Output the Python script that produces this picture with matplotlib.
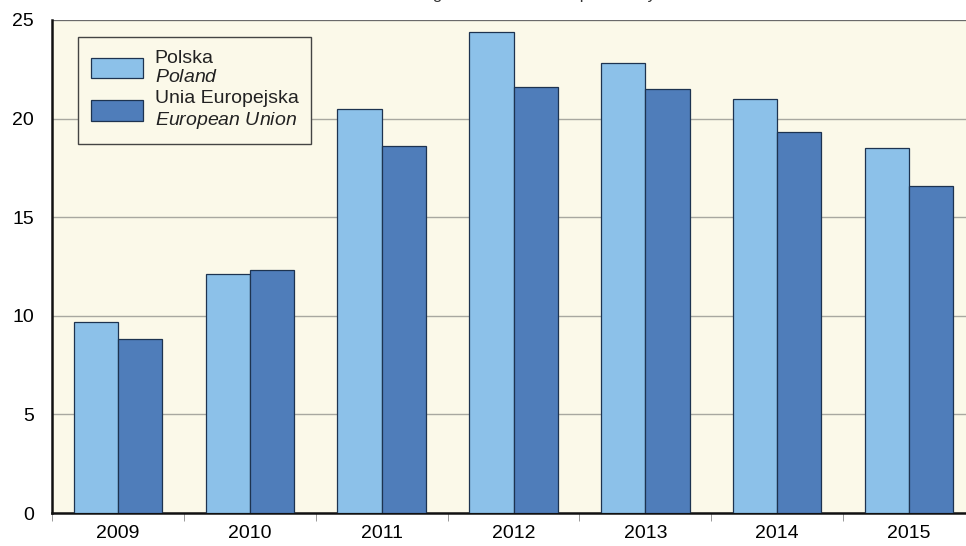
import numpy as np
import matplotlib.pyplot as plt
from matplotlib.patches import Patch

plt.rcParams['font.family'] = ['Liberation Sans', 'DejaVu Sans']
plt.rcParams['mathtext.fontset'] = 'custom'
plt.rcParams['mathtext.rm'] = 'Liberation Sans'
plt.rcParams['mathtext.it'] = 'Liberation Sans:italic'

years = ['2009', '2010', '2011', '2012', '2013', '2014', '2015']
poland = [9.7, 12.1, 20.5, 24.4, 22.8, 21.0, 18.5]
eu = [8.8, 12.3, 18.6, 21.6, 21.5, 19.3, 16.6]
title = 'Change in relation to the previous year'

c_pl = '#8cc1e9'
c_eu = '#4f7dba'
edge = '#1d3350'

fig = plt.figure(figsize=(9.66, 5.46), dpi=100)
ax = fig.add_axes([52 / 966, 33 / 546, 923 / 966, 493 / 546])
ax.set_facecolor('#fbf9e9')

x = np.arange(len(years))
w = 0.335
ax.bar(x - w / 2, poland, w, color=c_pl, edgecolor=edge, linewidth=0.9, zorder=3)
ax.bar(x + w / 2, eu, w, color=c_eu, edgecolor=edge, linewidth=0.9, zorder=3)

ax.set_xlim(-0.5, len(years) - 0.5)
ax.set_ylim(0, 25)
ax.set_yticks([0, 5, 10, 15, 20, 25])
ax.set_xticks(x)
ax.set_xticklabels(years)
ax.set_xticks(np.arange(len(years) + 1) - 0.5, minor=True)
ax.tick_params(axis='x', which='major', length=0, pad=9, labelsize=14)
ax.tick_params(axis='x', which='minor', length=6, color='#888888', direction='out')
ax.tick_params(axis='y', length=0, pad=13, labelsize=14)
ax.yaxis.grid(True, color='#a8a8a0', linewidth=1.0, zorder=0)
ax.set_axisbelow(True)

for s in ['top', 'right']:
    ax.spines[s].set_visible(False)
ax.spines['left'].set_color('#111111')
ax.spines['left'].set_linewidth(1.8)
ax.spines['bottom'].set_color('#111111')
ax.spines['bottom'].set_linewidth(1.8)
ax.axhline(25, color='#6a6a6a', linewidth=1.5, zorder=1)

handles = [Patch(facecolor=c_pl, edgecolor=edge, linewidth=0.9),
           Patch(facecolor=c_eu, edgecolor=edge, linewidth=0.9)]
labels = ['Polska\n$\\it{Poland}$', 'Unia Europejska\n$\\it{European\\ Union}$']
leg = ax.legend(handles, labels, loc='upper left', bbox_to_anchor=(0.0282, 0.9655),
                borderaxespad=0, fontsize=14, frameon=True, fancybox=False,
                framealpha=1, handlelength=2.7, handleheight=1.25,
                handletextpad=0.6, labelspacing=0.2, borderpad=0.65)
leg.get_frame().set_edgecolor('#444444')
leg.get_frame().set_facecolor('#fbf9e9')
leg.get_frame().set_linewidth(1.0)
for t in leg.get_texts():
    t.set_color('#222222')

fig.text(0.555, 1 + 1.5 / 546, title, ha='center', va='baseline', fontsize=12,
         color='#333333')

fig.savefig('out.png', dpi=100)
